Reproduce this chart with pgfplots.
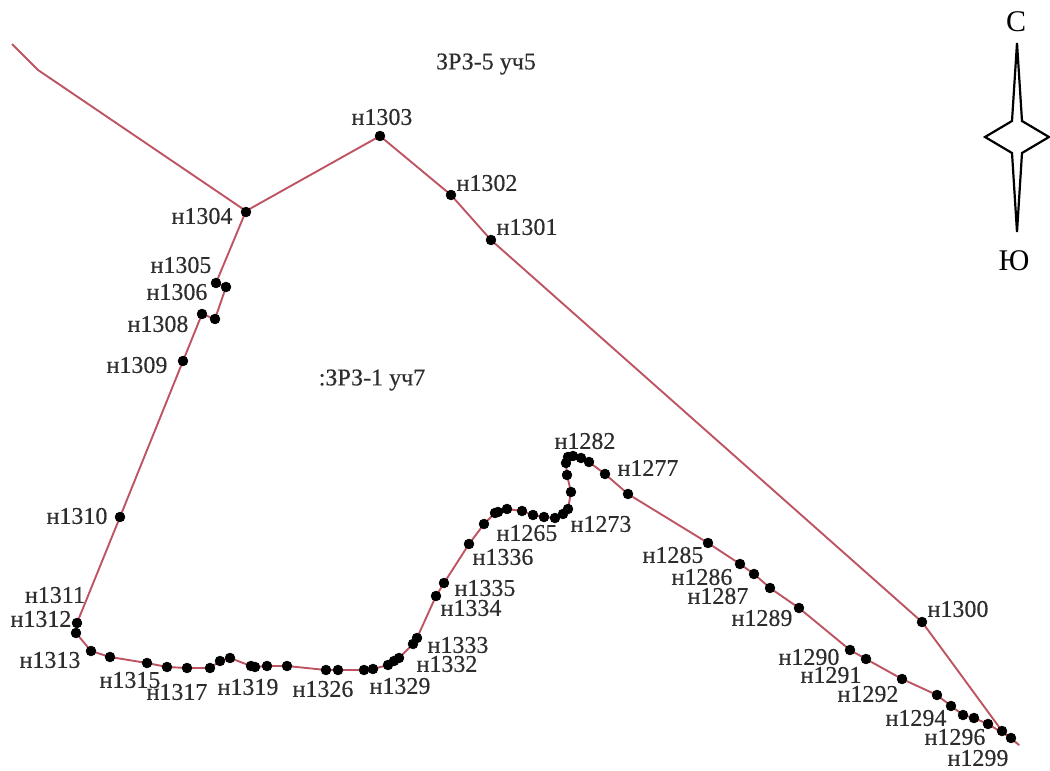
\documentclass[border=0pt]{standalone}
\usepackage{pgfplots}
\pgfplotsset{compat=1.18}
\usepackage{fontspec}
\setmainfont{Liberation Serif}
\newfontfamily\lbfont[RawFeature={embolden=0.35}]{Liberation Serif}
\definecolor{bnd}{RGB}{190,84,98}
\definecolor{lab}{RGB}{45,45,45}
\newcommand{\lb}[3]{\node[text=lab,font=\lbfont\fontsize{12}{12}\selectfont,inner sep=0pt] at (axis cs:#1,#2) {#3};}
\begin{document}
\begin{tikzpicture}
\useasboundingbox (0,0) rectangle (525pt,385.5pt);
\begin{axis}[
  scale only axis, width=525pt, height=385.5pt,
  xmin=0, xmax=1050, ymin=0, ymax=771, y dir=reverse,
  hide axis, clip=false, anchor=south west, at={(0,0)}]
% boundary
\addplot[bnd, line width=0.95pt, line join=round] coordinates {
(12,44)(38,70)(246,211)(380,136)(451,195)(491,240)(922,622)(950,660)(1002,731)(1019,745)
(1011,738)(988,724)(974,718)(963,715)(951,706)(937,695)(902,679)(866,659)(850,650)(799,608)
(770,588)(754,574)(740,564)(708,543)(628,494)(605,474)(589,462)(581,458)(573,456)(568,457)
(566,463)(567,475)(571,492)(568,509)(563,514)(555,518)(544,517)(533,515)(522,511)(507,509)
(498,512)(495,513)(484,524)(469,544)(444,583)(436,596)(417,638)(413,644)(399,658)(394,661)
(388,665)(373,669)(364,670)(338,670)(326,670)(287,666)(267,666)(255,667)(251,666)(230,658)
(220,661)(210,668)(187,668)(167,667)(147,663)(110,657)(91,651)(76,633)(77,623)(120,517)
(183,361)(202,314)(215,319)(226,287)(216,283)(246,211)};
% boundary points
\addplot[only marks, mark=*, mark size=2.4pt, mark options={black,fill=black}] coordinates {
(246,212)(380,136)(451,195)(491,240)(922,622)(1002,731)(1011,738)(988,724)(974,718)(963,715)
(951,706)(937,695)(902,679)(866,659)(850,650)(799,608)(770,588)(754,574)(740,564)(708,543)
(628,494)(605,474)(589,462)(581,458)(573,456)(568,457)(566,463)(567,475)(571,492)(568,509)
(563,514)(555,518)(544,517)(533,515)(522,511)(507,509)(498,512)(495,513)(484,524)(469,544)
(444,583)(436,596)(417,638)(413,644)(399,658)(394,661)(388,665)(373,669)(364,670)(338,670)
(326,670)(287,666)(267,666)(255,667)(251,666)(230,658)(220,661)(210,668)(187,668)(167,667)
(147,663)(110,657)(91,651)(76,633)(77,623)(120,517)(183,361)(202,314)(215,319)(226,287)(216,283)};
% compass
\addplot[black, line width=1.1pt, line join=miter] coordinates {
(1017,43)(1012,121)(985,137)(1012,153)(1017,232)(1022,153)(1049,137)(1022,121)(1017,43)};
\lb{382}{117}{н1303}\lb{487}{183}{н1302}\lb{527}{227}{н1301}\lb{202}{216}{н1304}
\lb{181}{265}{н1305}\lb{177}{292}{н1306}\lb{158}{324}{н1308}\lb{137}{365}{н1309}
\lb{77}{516}{н1310}\lb{55}{595}{н1311}\lb{41}{619}{н1312}\lb{50}{660}{н1313}
\lb{130}{680}{н1315}\lb{177}{692}{н1317}\lb{248}{687}{н1319}\lb{323}{689}{н1326}
\lb{400}{686}{н1329}\lb{447}{664}{н1332}\lb{458}{645}{н1333}\lb{471}{608}{н1334}
\lb{485}{588}{н1335}\lb{503}{557}{н1336}\lb{527}{533}{н1265}\lb{601}{524}{н1273}
\lb{585}{441}{н1282}\lb{648}{468}{н1277}\lb{673}{555}{н1285}\lb{702}{577}{н1286}
\lb{718}{596}{н1287}\lb{762}{618}{н1289}\lb{958}{609}{н1300}\lb{809}{657}{н1290}
\lb{831}{675}{н1291}\lb{868}{694}{н1292}\lb{916}{718}{н1294}\lb{955}{737}{н1296}
\lb{978}{758}{н1299}
\lb{486}{64}{ЗРЗ-5 уч5}\lb{372}{380}{:ЗРЗ-1 уч7}
\node[text=black,font=\fontsize{15}{15}\selectfont,inner sep=0pt] at (axis cs:1016,22) {С};
\node[text=black,font=\fontsize{15}{15}\selectfont,inner sep=0pt] at (axis cs:1014,261) {Ю};
\end{axis}
\end{tikzpicture}
\end{document}
